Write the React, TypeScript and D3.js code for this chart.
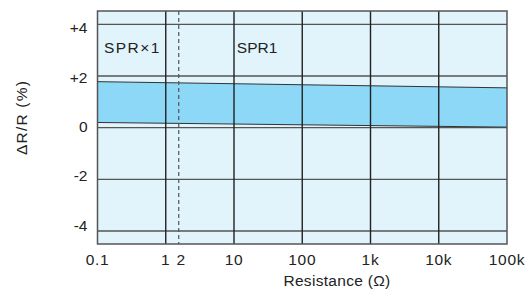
import React from "react";
import * as d3 from "d3";

const resistance = [0.1, 100000];
const upperLimit = [1.78, 1.54];
const lowerLimit = [0.2, 0.02];
const xTickValues = [0.1, 1, 10, 100, 1000, 10000, 100000];
const xTickLabels = ["0.1", "1", "10", "100", "1k", "10k", "100k"];
const dashedValue = 1.55;
const dashedLabel = "2";
const yTickValues = [4, 2, 0, -2, -4];
const yTickLabels = ["+4", "+2", "0", "-2", "-4"];
const regionLabels = [
  { x: 0.125, text: "SPR×1" },
  { x: 11, text: "SPR1" },
];

const W = 527;
const H = 289;
const left = 97.5;
const right = 507;
const top = 11;
const bottom = 244;

export default function App() {
  const x = d3.scaleLog().domain([0.1, 100000]).range([left, right]);
  const y = d3.scaleLinear().domain([-4, 4]).range([231, 24.3]);
  const yLabel = d3.scaleLinear().domain([-4, 4]).range([230.7, 33.3]);

  const pts = resistance.map((r, i) => ({ r, u: upperLimit[i], l: lowerLimit[i] }));
  const area = d3
    .area<{ r: number; u: number; l: number }>()
    .x((d) => x(d.r))
    .y0((d) => y(d.l))
    .y1((d) => y(d.u));
  const upperLine = d3.line<{ r: number; u: number; l: number }>().x((d) => x(d.r)).y((d) => y(d.u));
  const lowerLine = d3.line<{ r: number; u: number; l: number }>().x((d) => x(d.r)).y((d) => y(d.l));

  const font = "'Liberation Sans', Arial, Helvetica, sans-serif";

  return (
    <svg width={W} height={H} style={{ position: "absolute", left: 0, top: 0 }} fontFamily={font}>
      <rect x={left} y={top} width={right - left} height={bottom - top} fill="#e1f3fb" />
      {yTickValues.map((v) => (
        <line key={"h" + v} x1={left} x2={right} y1={y(v)} y2={y(v)} stroke="#555" strokeWidth={1.3} />
      ))}
      <path d={area(pts) || ""} fill="#8dd8f6" />
      <path d={upperLine(pts) || ""} stroke="#333" strokeWidth={1} fill="none" />
      <path d={lowerLine(pts) || ""} stroke="#333" strokeWidth={1} fill="none" />
      {xTickValues.slice(1, -1).map((v) => (
        <line key={"v" + v} x1={x(v)} x2={x(v)} y1={top} y2={bottom} stroke="#222" strokeWidth={1.4} />
      ))}
      <line
        x1={x(dashedValue)}
        x2={x(dashedValue)}
        y1={top}
        y2={bottom}
        stroke="#555"
        strokeWidth={1.2}
        strokeDasharray="4,3"
      />
      <rect x={left} y={top} width={right - left} height={bottom - top} fill="none" stroke="#555" strokeWidth={1.5} />
      {yTickValues.map((v, i) => (
        <text key={"yl" + v} x={87.5} y={yLabel(v)} textAnchor="end" fontSize={15.5} fill="#222">
          {yTickLabels[i]}
        </text>
      ))}
      {xTickValues.map((v, i) => (
        <text key={"xl" + v} x={x(v)} y={265} textAnchor="middle" fontSize={15.5} fill="#222" letterSpacing={0.7}>
          {xTickLabels[i]}
        </text>
      ))}
      <text x={x(dashedValue) + 2} y={265} textAnchor="middle" fontSize={15.5} fill="#222">
        {dashedLabel}
      </text>
      {regionLabels.map((r) => (
        <text key={r.text} x={x(r.x)} y={52.5} fontSize={15.5} fill="#222" letterSpacing={r.text.includes("×") ? 1.4 : 0}>
          {r.text}
        </text>
      ))}
      <text x={337} y={285.5} textAnchor="middle" fontSize={15.5} fill="#222" letterSpacing={0.3}>
        Resistance (Ω)
      </text>
      <text
        transform="translate(27,117.5) rotate(-90)"
        textAnchor="middle"
        fontSize={15.5}
        fill="#222"
        letterSpacing={1.2}
      >
        ΔR/R (%)
      </text>
    </svg>
  );
}
